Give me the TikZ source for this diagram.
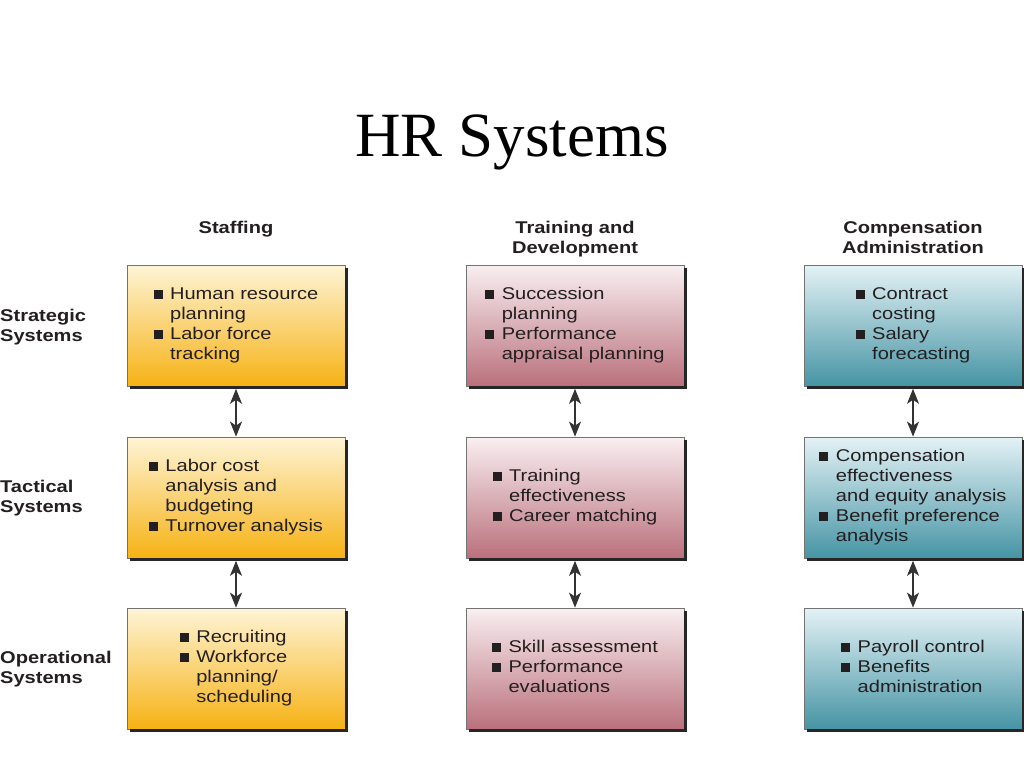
\documentclass[tikz,border=0pt]{standalone}
\usepackage{fontspec}
\setmainfont{Liberation Serif}
\newfontfamily\hsans[FakeStretch=1.18]{Liberation Sans}
\usetikzlibrary{arrows.meta,calc}
\definecolor{txt}{RGB}{35,31,32}
\definecolor{stTop}{RGB}{254,244,214}
\definecolor{stBot}{RGB}{246,178,20}
\definecolor{trTop}{RGB}{249,239,241}
\definecolor{trBot}{RGB}{186,112,124}
\definecolor{coTop}{RGB}{228,242,246}
\definecolor{coBot}{RGB}{70,148,164}
\newcommand\myblt{\rule[1pt]{9pt}{9pt}}
\newcommand\mylist[1]{\begin{tabular}{@{}l@{\hspace{7.5pt}}l@{}}#1\end{tabular}}
\begin{document}
\begin{tikzpicture}[x=1pt,y=-1pt,
  box/.style={draw=black!55, line width=0.8pt, minimum width=218pt, minimum height=121pt,
    inner sep=0pt, font=\hsans\fontsize{17}{20}\selectfont, text=txt},
  stbox/.style={box, top color=stTop, bottom color=stBot},
  trbox/.style={box, top color=trTop, bottom color=trBot},
  cobox/.style={box, top color=coTop, bottom color=coBot},
  shadowline/.style={line width=2.4pt, black!85},
  hdr/.style={align=center, inner sep=0pt, font=\hsans\bfseries\fontsize{17}{20}\selectfont, text=txt},
  lbl/.style={align=left, inner sep=0pt, font=\hsans\bfseries\fontsize{17}{20}\selectfont, text=txt},
  dbl/.style={line width=1.2pt, black!80, arrows={Stealth[length=15pt,width=12pt,inset=4pt]-Stealth[length=15pt,width=12pt,inset=4pt]}}
]
\fill[white] (0,0) rectangle (1024,768);
\useasboundingbox (0,0) rectangle (1024,768);

\node[anchor=base, inner sep=0pt, font=\fontsize{63}{70}\selectfont] (title) at (512,156) {HR Systems};

% column headers
\node[hdr, anchor=north] (h1) at (236,221) {Staffing};
\node[hdr, anchor=north] (h2) at (575,221) {Training and\\Development};
\node[hdr, anchor=north] (h3) at (913,221) {Compensation\\Administration};

% row labels
\node[lbl, anchor=north west] (l1) at (0,308.5) {Strategic\\Systems};
\node[lbl, anchor=north west] (l2) at (0,480) {Tactical\\Systems};
\node[lbl, anchor=north west] (l3) at (0,651) {Operational\\Systems};

% boxes
\node[stbox] (s1) at (236,325.5) {\mylist{\myblt & Human resource\\ & planning\\ \myblt & Labor force\\ & tracking}};
\node[stbox] (s2) at (236,497.5) {\mylist{\myblt & Labor cost\\ & analysis and\\ & budgeting\\ \myblt & Turnover analysis}};
\node[stbox] (s3) at (236,668.5) {\mylist{\myblt & Recruiting\\ \myblt & Workforce\\ & planning/\\ & scheduling}};

\node[trbox] (t1) at (575,325.5) {\mylist{\myblt & Succession\\ & planning\\ \myblt & Performance\\ & appraisal planning}};
\node[trbox] (t2) at (575,497.5) {\mylist{\myblt & Training\\ & effectiveness\\ \myblt & Career matching}};
\node[trbox] (t3) at (575,668.5) {\mylist{\myblt & Skill assessment\\ \myblt & Performance\\ & evaluations}};

\node[cobox] (c1) at (913,325.5) {\mylist{\myblt & Contract\\ & costing\\ \myblt & Salary\\ & forecasting}};
\node[cobox] (c2) at (913,497.5) {\mylist{\myblt & Compensation\\ & effectiveness\\ & and equity analysis\\ \myblt & Benefit preference\\ & analysis}};
\node[cobox] (c3) at (913,668.5) {\mylist{\myblt & Payroll control\\ \myblt & Benefits\\ & administration}};

% shadows
\foreach \n in {s1,s2,s3,t1,t2,t3,c1,c2,c3}{
  \draw[shadowline] ($(\n.north east)+(1,3)$) -- ($(\n.south east)+(1,1)$) -- ($(\n.south west)+(3,1)$);
}

% connectors
\foreach \c in {s,t,c}{
  \draw[dbl, shorten <=2.4pt] (\c1.south) -- (\c2.north);
  \draw[dbl, shorten <=2.4pt] (\c2.south) -- (\c3.north);
}
\end{tikzpicture}
\end{document}
